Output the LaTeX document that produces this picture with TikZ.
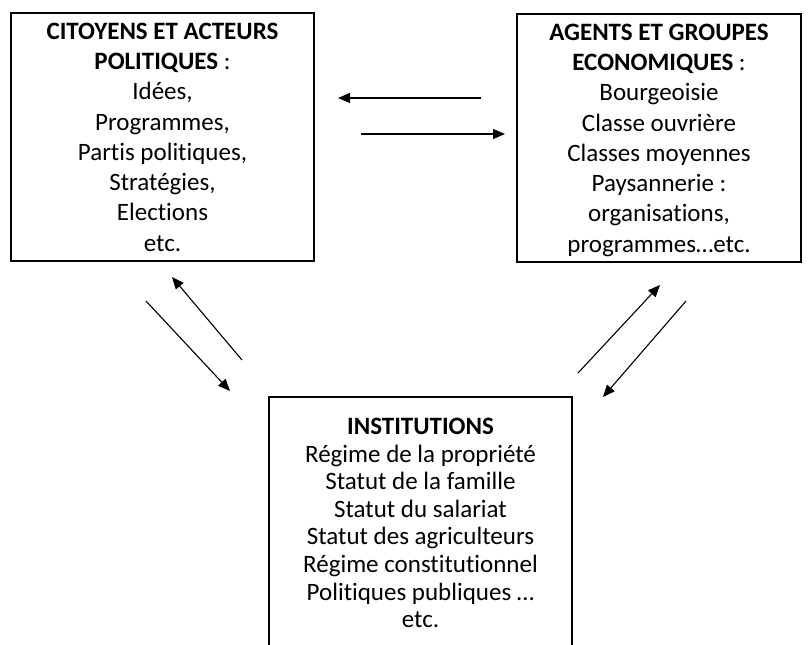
\documentclass[tikz,border=0pt]{standalone}
\usepackage{fontspec}
\setmainfont{Carlito}[Ligatures=NoCommon]
\usetikzlibrary{arrows.meta}

\tikzset{
  boite/.style={draw, line width=1.5pt, align=center, inner sep=0pt, text depth=-6pt,
    font=\fontsize{25}{30.3}\selectfont},
  fleche/.style={line width=1.1pt, -{Triangle[length=12pt,width=10pt]}},
}

\begin{document}
\begin{tikzpicture}[x=1pt,y=-1pt]
  \clip (0,0) rectangle (812,645);
  \fill[white] (0,0) rectangle (812,645);

  % les trois cadres
  \node[boite, minimum width=303pt, minimum height=248pt] (citoyens) at (162.5,137)
    {\textbf{CITOYENS ET ACTEURS}\\ \textbf{POLITIQUES} :\\ Idées,\\ Programmes,\\
     Partis politiques,\\ Stratégies,\\ Elections\\ etc.};
  \node[boite, minimum width=284pt, minimum height=248pt] (agents) at (659,138)
    {\textbf{AGENTS ET GROUPES}\\ \textbf{ECONOMIQUES} :\\ Bourgeoisie\\ Classe ouvrière\\
     Classes moyennes\\ Paysannerie :\\ organisations,\\ programmes…etc.};
  \node[anchor=north, align=center, inner xsep=0pt, inner ysep=21pt, minimum width=303pt,
    font=\fontsize{25}{27.6}\selectfont] (institutions) at (420.5,397)
    {\textbf{INSTITUTIONS}\\ Régime de la propriété\\ Statut de la famille\\ Statut du salariat\\
     Statut des agriculteurs\\ Régime constitutionnel\\ Politiques publiques …\\ etc.};
  \draw[line width=1.5pt] ([yshift=-80pt]institutions.south west) -- (institutions.north west)
    -- (institutions.north east) -- ([yshift=-80pt]institutions.south east);

  % les fleches
  \coordinate (h1) at (481,98);  \coordinate (h2) at (338,98);
  \coordinate (h3) at (361,134); \coordinate (h4) at (505,134);
  \coordinate (g1) at (146,301); \coordinate (g2) at (230,391);
  \coordinate (g3) at (242,360); \coordinate (g4) at (172,277);
  \coordinate (d1) at (578,373); \coordinate (d2) at (660,285);
  \coordinate (d3) at (686,301); \coordinate (d4) at (603,397);

  \draw[fleche] (h1) -- (h2);
  \draw[fleche] (h3) -- (h4);
  \draw[fleche] (g1) -- (g2);
  \draw[fleche] (g3) -- (g4);
  \draw[fleche] (d1) -- (d2);
  \draw[fleche] (d3) -- (d4);
\end{tikzpicture}
\end{document}
